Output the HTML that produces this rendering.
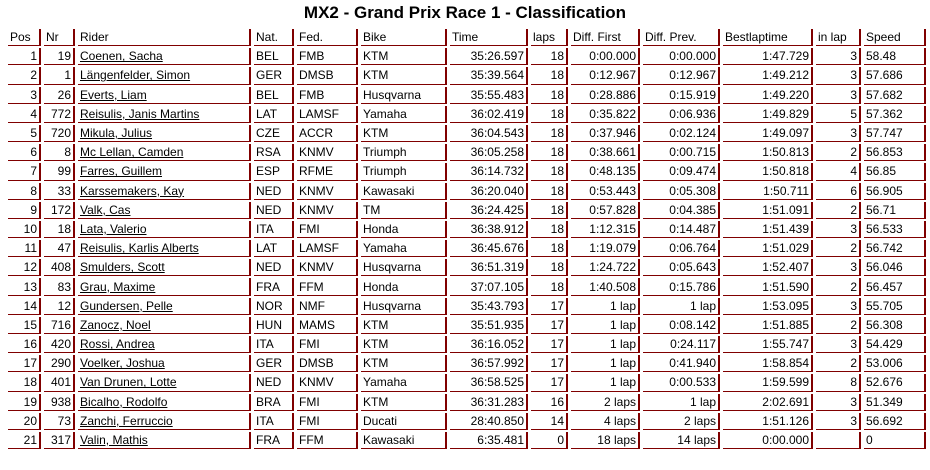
<!DOCTYPE html>
<html><head><meta charset="utf-8"><style>
body{margin:0;width:930px;height:470px;background:#fff;font-family:"Liberation Sans",Arial,sans-serif;font-size:12px;color:#000;position:relative;overflow:hidden}
h1{position:absolute;top:3px;left:0;width:930px;text-align:center;margin:0;font-size:17px;font-weight:bold}
table{position:absolute;left:5px;top:27px;border-collapse:separate;border-spacing:3px 2px;table-layout:fixed}
td{height:16.2px;padding:0 2px;border-right:2px solid #800000;border-bottom:1px solid #800000;line-height:16px;white-space:nowrap;overflow:hidden;font-size:12px}
td.r{text-align:right}
u{text-decoration:underline}
</style></head><body>
<h1>MX2 - Grand Prix Race 1 - Classification</h1>
<table>
<colgroup><col style="width:33px"><col style="width:31px"><col style="width:173px"><col style="width:40px"><col style="width:61px"><col style="width:86px"><col style="width:78px"><col style="width:37px"><col style="width:69px"><col style="width:77px"><col style="width:90px"><col style="width:45px"><col style="width:62px"></colgroup>
<tr><td>Pos</td><td>Nr</td><td>Rider</td><td>Nat.</td><td>Fed.</td><td>Bike</td><td>Time</td><td>laps</td><td>Diff. First</td><td>Diff. Prev.</td><td>Bestlaptime</td><td>in lap</td><td>Speed</td></tr>
<tr><td class="r">1</td><td class="r">19</td><td><u>Coenen, Sacha</u></td><td>BEL</td><td>FMB</td><td>KTM</td><td class="r">35:26.597</td><td class="r">18</td><td class="r">0:00.000</td><td class="r">0:00.000</td><td class="r">1:47.729</td><td class="r">3</td><td>58.48</td></tr>
<tr><td class="r">2</td><td class="r">1</td><td><u>Längenfelder, Simon</u></td><td>GER</td><td>DMSB</td><td>KTM</td><td class="r">35:39.564</td><td class="r">18</td><td class="r">0:12.967</td><td class="r">0:12.967</td><td class="r">1:49.212</td><td class="r">3</td><td>57.686</td></tr>
<tr><td class="r">3</td><td class="r">26</td><td><u>Everts, Liam</u></td><td>BEL</td><td>FMB</td><td>Husqvarna</td><td class="r">35:55.483</td><td class="r">18</td><td class="r">0:28.886</td><td class="r">0:15.919</td><td class="r">1:49.220</td><td class="r">3</td><td>57.682</td></tr>
<tr><td class="r">4</td><td class="r">772</td><td><u>Reisulis, Janis Martins</u></td><td>LAT</td><td>LAMSF</td><td>Yamaha</td><td class="r">36:02.419</td><td class="r">18</td><td class="r">0:35.822</td><td class="r">0:06.936</td><td class="r">1:49.829</td><td class="r">5</td><td>57.362</td></tr>
<tr><td class="r">5</td><td class="r">720</td><td><u>Mikula, Julius</u></td><td>CZE</td><td>ACCR</td><td>KTM</td><td class="r">36:04.543</td><td class="r">18</td><td class="r">0:37.946</td><td class="r">0:02.124</td><td class="r">1:49.097</td><td class="r">3</td><td>57.747</td></tr>
<tr><td class="r">6</td><td class="r">8</td><td><u>Mc Lellan, Camden</u></td><td>RSA</td><td>KNMV</td><td>Triumph</td><td class="r">36:05.258</td><td class="r">18</td><td class="r">0:38.661</td><td class="r">0:00.715</td><td class="r">1:50.813</td><td class="r">2</td><td>56.853</td></tr>
<tr><td class="r">7</td><td class="r">99</td><td><u>Farres, Guillem</u></td><td>ESP</td><td>RFME</td><td>Triumph</td><td class="r">36:14.732</td><td class="r">18</td><td class="r">0:48.135</td><td class="r">0:09.474</td><td class="r">1:50.818</td><td class="r">4</td><td>56.85</td></tr>
<tr><td class="r">8</td><td class="r">33</td><td><u>Karssemakers, Kay</u></td><td>NED</td><td>KNMV</td><td>Kawasaki</td><td class="r">36:20.040</td><td class="r">18</td><td class="r">0:53.443</td><td class="r">0:05.308</td><td class="r">1:50.711</td><td class="r">6</td><td>56.905</td></tr>
<tr><td class="r">9</td><td class="r">172</td><td><u>Valk, Cas</u></td><td>NED</td><td>KNMV</td><td>TM</td><td class="r">36:24.425</td><td class="r">18</td><td class="r">0:57.828</td><td class="r">0:04.385</td><td class="r">1:51.091</td><td class="r">2</td><td>56.71</td></tr>
<tr><td class="r">10</td><td class="r">18</td><td><u>Lata, Valerio</u></td><td>ITA</td><td>FMI</td><td>Honda</td><td class="r">36:38.912</td><td class="r">18</td><td class="r">1:12.315</td><td class="r">0:14.487</td><td class="r">1:51.439</td><td class="r">3</td><td>56.533</td></tr>
<tr><td class="r">11</td><td class="r">47</td><td><u>Reisulis, Karlis Alberts</u></td><td>LAT</td><td>LAMSF</td><td>Yamaha</td><td class="r">36:45.676</td><td class="r">18</td><td class="r">1:19.079</td><td class="r">0:06.764</td><td class="r">1:51.029</td><td class="r">2</td><td>56.742</td></tr>
<tr><td class="r">12</td><td class="r">408</td><td><u>Smulders, Scott</u></td><td>NED</td><td>KNMV</td><td>Husqvarna</td><td class="r">36:51.319</td><td class="r">18</td><td class="r">1:24.722</td><td class="r">0:05.643</td><td class="r">1:52.407</td><td class="r">3</td><td>56.046</td></tr>
<tr><td class="r">13</td><td class="r">83</td><td><u>Grau, Maxime</u></td><td>FRA</td><td>FFM</td><td>Honda</td><td class="r">37:07.105</td><td class="r">18</td><td class="r">1:40.508</td><td class="r">0:15.786</td><td class="r">1:51.590</td><td class="r">2</td><td>56.457</td></tr>
<tr><td class="r">14</td><td class="r">12</td><td><u>Gundersen, Pelle</u></td><td>NOR</td><td>NMF</td><td>Husqvarna</td><td class="r">35:43.793</td><td class="r">17</td><td class="r">1 lap</td><td class="r">1 lap</td><td class="r">1:53.095</td><td class="r">3</td><td>55.705</td></tr>
<tr><td class="r">15</td><td class="r">716</td><td><u>Zanocz, Noel</u></td><td>HUN</td><td>MAMS</td><td>KTM</td><td class="r">35:51.935</td><td class="r">17</td><td class="r">1 lap</td><td class="r">0:08.142</td><td class="r">1:51.885</td><td class="r">2</td><td>56.308</td></tr>
<tr><td class="r">16</td><td class="r">420</td><td><u>Rossi, Andrea</u></td><td>ITA</td><td>FMI</td><td>KTM</td><td class="r">36:16.052</td><td class="r">17</td><td class="r">1 lap</td><td class="r">0:24.117</td><td class="r">1:55.747</td><td class="r">3</td><td>54.429</td></tr>
<tr><td class="r">17</td><td class="r">290</td><td><u>Voelker, Joshua</u></td><td>GER</td><td>DMSB</td><td>KTM</td><td class="r">36:57.992</td><td class="r">17</td><td class="r">1 lap</td><td class="r">0:41.940</td><td class="r">1:58.854</td><td class="r">2</td><td>53.006</td></tr>
<tr><td class="r">18</td><td class="r">401</td><td><u>Van Drunen, Lotte</u></td><td>NED</td><td>KNMV</td><td>Yamaha</td><td class="r">36:58.525</td><td class="r">17</td><td class="r">1 lap</td><td class="r">0:00.533</td><td class="r">1:59.599</td><td class="r">8</td><td>52.676</td></tr>
<tr><td class="r">19</td><td class="r">938</td><td><u>Bicalho, Rodolfo</u></td><td>BRA</td><td>FMI</td><td>KTM</td><td class="r">36:31.283</td><td class="r">16</td><td class="r">2 laps</td><td class="r">1 lap</td><td class="r">2:02.691</td><td class="r">3</td><td>51.349</td></tr>
<tr><td class="r">20</td><td class="r">73</td><td><u>Zanchi, Ferruccio</u></td><td>ITA</td><td>FMI</td><td>Ducati</td><td class="r">28:40.850</td><td class="r">14</td><td class="r">4 laps</td><td class="r">2 laps</td><td class="r">1:51.126</td><td class="r">3</td><td>56.692</td></tr>
<tr><td class="r">21</td><td class="r">317</td><td><u>Valin, Mathis</u></td><td>FRA</td><td>FFM</td><td>Kawasaki</td><td class="r">6:35.481</td><td class="r">0</td><td class="r">18 laps</td><td class="r">14 laps</td><td class="r">0:00.000</td><td class="r"></td><td>0</td></tr>
</table>
</body></html>
